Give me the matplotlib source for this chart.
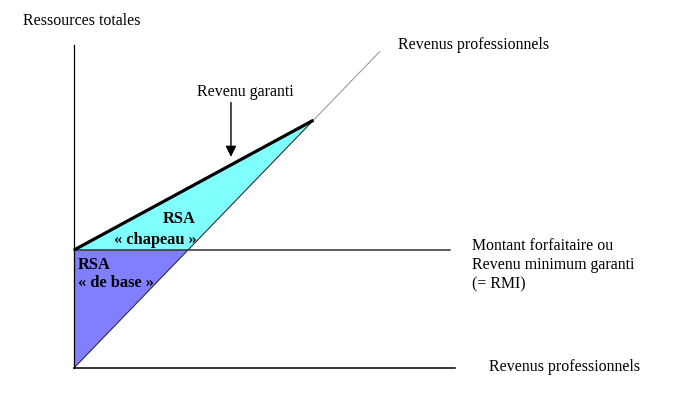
"""Schéma RSA : revenu garanti en fonction des revenus professionnels."""

import matplotlib

matplotlib.use("Agg")
import matplotlib.pyplot as plt

# valeurs schématiques (unité = montant forfaitaire RMI)
rmi = 1.0                 # montant forfaitaire / revenu minimum garanti
sortie = 2.1              # revenu professionnel où le RSA s'annule
diag_fin = 2.68           # fin de la droite "revenus professionnels"
axe_x_fin = 3.34
axe_y_fin = 2.74
rmi_fin = 3.30

# points des zones
base_x = [0.0, rmi, 0.0]
base_y = [0.0, rmi, rmi]
chapeau_x = [0.0, rmi, sortie]
chapeau_y = [rmi, rmi, sortie]
garanti_x = [0.0, sortie]
garanti_y = [rmi, sortie]

SERIF = ["Liberation Serif", "DejaVu Serif"]
FS = 11.4
FS_B = 11.8

fig = plt.figure(figsize=(6.87, 3.97), dpi=100)
ax = fig.add_axes([0, 0, 1, 1])
ax.set_xlim(-0.649, 5.377)
ax.set_ylim(-0.246, 3.119)
ax.axis("off")

ax.fill(base_x, base_y, color="#8080ff", linewidth=0)
ax.fill(chapeau_x, chapeau_y, color="#80ffff", linewidth=0)

# droite revenus professionnels (y = x)
ax.plot([0, sortie], [0, sortie], color="#303030", linewidth=0.8)
ax.plot([sortie, diag_fin], [sortie, diag_fin], color="#909090", linewidth=0.7)

# axes
ax.plot([0, 0], [0, axe_y_fin], color="black", linewidth=0.9)
ax.plot([0, axe_x_fin], [0, 0], color="black", linewidth=1.1)
ax.plot([0, rmi_fin], [rmi, rmi], color="#333333", linewidth=1.1)

# revenu garanti
ax.plot(garanti_x, garanti_y, color="black", linewidth=2.3, solid_capstyle="butt")

ax.annotate("", xy=(1.377, 1.79), xytext=(1.377, 2.25),
            arrowprops=dict(arrowstyle="-|>", color="black", lw=1.0,
                            mutation_scale=16, shrinkA=0, shrinkB=0))

ax.text(-0.447, 2.94, "Ressources totales", family=SERIF, fontsize=FS,
        ha="left", va="center")
ax.text(1.5, 2.34, "Revenu garanti", family=SERIF, fontsize=FS,
        ha="center", va="center")
ax.text(2.842, 2.737, "Revenus professionnels", family=SERIF, fontsize=FS,
        ha="left", va="center")
ax.text(3.64, 0.008, "Revenus professionnels", family=SERIF, fontsize=FS,
        ha="left", va="center")
ax.text(3.49, 0.873, "Montant forfaitaire ou\nRevenu minimum garanti\n(= RMI)",
        family=SERIF, fontsize=FS, ha="left", va="center", linespacing=1.28)

ax.text(0.921, 1.263, "RSA", family=SERIF, fontsize=FS_B, weight="bold",
        ha="center", va="center")
ax.text(0.711, 1.085, "« chapeau »", family=SERIF, fontsize=FS_B, weight="bold",
        ha="center", va="center")
ax.text(0.035, 0.873, "RSA", family=SERIF, fontsize=FS_B, weight="bold",
        ha="left", va="center")
ax.text(0.035, 0.72, "« de base »", family=SERIF, fontsize=FS_B, weight="bold",
        ha="left", va="center")

fig.savefig("out.png", dpi=100)
